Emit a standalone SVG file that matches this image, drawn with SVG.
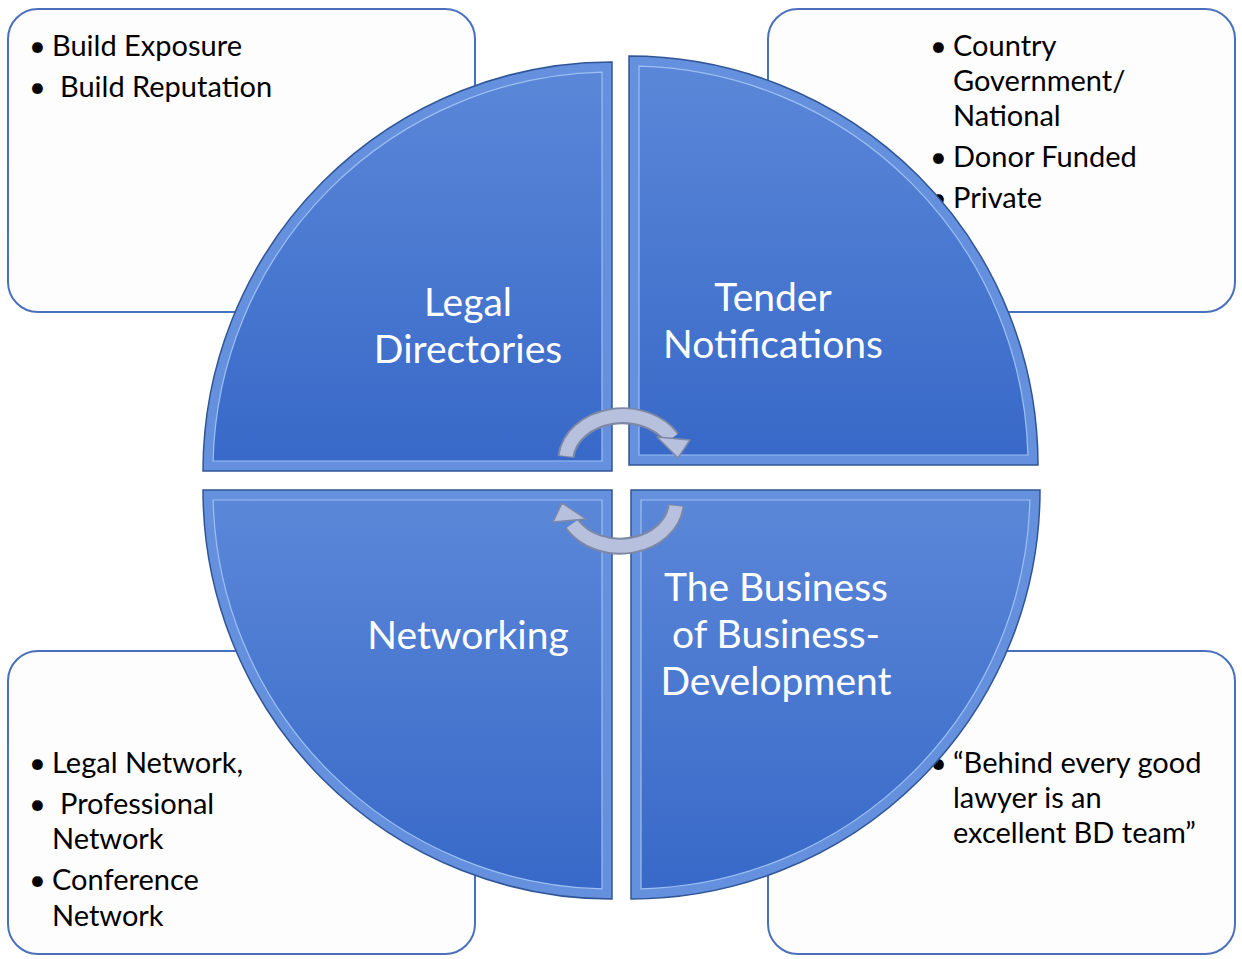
<svg xmlns="http://www.w3.org/2000/svg" width="1242" height="959" viewBox="0 0 1242 959">
<style>
.box{fill:#fdfdfd;stroke:#4a70bd;stroke-width:2}
.q-out{fill:#6590de;stroke:#2f5596;stroke-width:1.5}
.q-in{fill:url(#qg);stroke:#9cc0f2;stroke-width:1.2}
.qt{font-family:Lato,"Liberation Sans",sans-serif;font-size:39px;fill:#ffffff;text-anchor:middle}
.bt{font-family:Lato,"Liberation Sans",sans-serif;font-size:29px;fill:#000000}
.arc-o{fill:none;stroke:#7c88a6;stroke-width:17}
.arc-i{fill:none;stroke:#b7c1dd;stroke-width:13}
.head{fill:#b7c1dd;stroke:#7c88a6;stroke-width:1.5;stroke-linejoin:round}
</style>
<defs>
<linearGradient id="qg" x1="0" y1="0" x2="0" y2="1">
<stop offset="0" stop-color="#5b87d8"/>
<stop offset="1" stop-color="#3869c8"/>
</linearGradient>
</defs>
<g id="box-tl"><rect class="box" x="8" y="9" width="467" height="303" rx="30"/>
<text class="bt" x="29" y="56">•</text><text class="bt" x="52" y="56">Build Exposure</text>
<text class="bt" x="29" y="97">•</text><text class="bt" x="60" y="97">Build Reputation</text></g>
<g id="box-tr"><rect class="box" x="768" y="9" width="467" height="303" rx="30"/>
<text class="bt" x="930" y="56">•</text><text class="bt" x="953" y="56">Country</text>
<text class="bt" x="953" y="91">Government/</text>
<text class="bt" x="953" y="126">National</text>
<text class="bt" x="930" y="167">•</text><text class="bt" x="953" y="167">Donor Funded</text>
<text class="bt" x="930" y="208">•</text><text class="bt" x="953" y="208">Private</text></g>
<g id="box-bl"><rect class="box" x="8" y="651" width="467" height="303" rx="30"/>
<text class="bt" x="29" y="773">•</text><text class="bt" x="52" y="773">Legal Network,</text>
<text class="bt" x="29" y="814">•</text><text class="bt" x="60" y="814">Professional</text>
<text class="bt" x="52" y="849">Network</text>
<text class="bt" x="29" y="890">•</text><text class="bt" x="52" y="890">Conference</text>
<text class="bt" x="52" y="926">Network</text></g>
<g id="box-br"><rect class="box" x="768" y="651" width="467" height="303" rx="30"/>
<text class="bt" x="930" y="773">•</text><text class="bt" x="953" y="773">“Behind every good</text>
<text class="bt" x="953" y="808">lawyer is an</text>
<text class="bt" x="953" y="843">excellent BD team”</text></g>
<g id="q-legal">
<path class="q-out" d="M 612 471 L 203 471 A 409 409 0 0 1 612 62 Z"/>
<path class="q-in" d="M 602 461 L 213.1 461 A 399 399 0 0 1 602 72.1 Z"/>
<text class="qt" x="468" y="316">Legal</text>
<text class="qt" x="468" y="363">Directories</text></g>
<g id="q-tender">
<path class="q-out" d="M 629 465 L 629 56 A 409 409 0 0 1 1038 465 Z"/>
<path class="q-in" d="M 639 455 L 639 66.1 A 399 399 0 0 1 1027.9 455 Z"/>
<text class="qt" x="773" y="311">Tender</text>
<text class="qt" x="773" y="358">Notifications</text></g>
<g id="q-networking">
<path class="q-out" d="M 612 490 L 612 899 A 409 409 0 0 1 203 490 Z"/>
<path class="q-in" d="M 602 500 L 602 888.9 A 399 399 0 0 1 213.1 500 Z"/>
<text class="qt" x="468" y="649">Networking</text></g>
<g id="q-business">
<path class="q-out" d="M 631 490 L 1040 490 A 409 409 0 0 1 631 899 Z"/>
<path class="q-in" d="M 641 500 L 1029.9 500 A 399 399 0 0 1 641 888.9 Z"/>
<text class="qt" x="776" y="601">The Business</text>
<text class="qt" x="776" y="648">of Business-</text>
<text class="qt" x="776" y="695">Development</text></g>
<g id="connectors">
<path class="arc-o" d="M 566 457 A 57 45 0 0 1 672 438"/>
<path class="arc-i" d="M 566 456 A 57 45 0 0 1 672 438"/>
<polygon class="head" points="657,437 690,440 678,458"/>
<path class="arc-o" d="M 676 505 A 56 45 0 0 1 572 524"/>
<path class="arc-i" d="M 676 506 A 56 45 0 0 1 572 524"/>
<polygon class="head" points="553,522 586,519 562,503"/>
</g>
</svg>
